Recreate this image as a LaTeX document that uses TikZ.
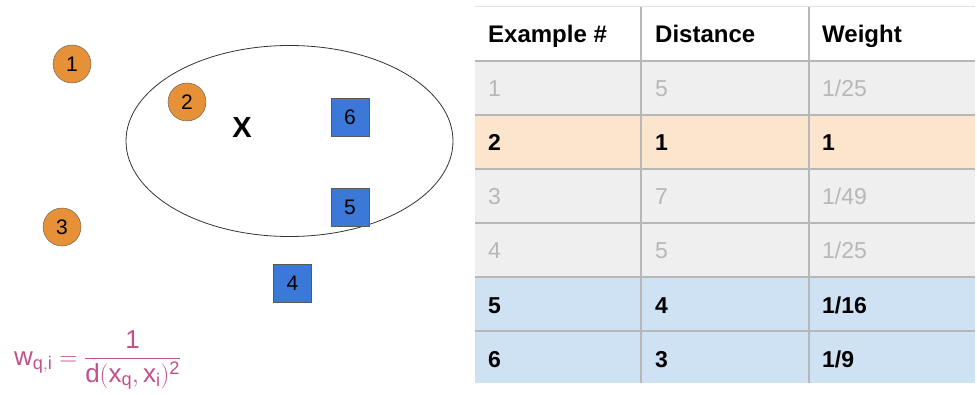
\documentclass[tikz,border=0pt]{standalone}
\usepackage{amsmath}
\usepackage{fontspec}
\setmainfont{Liberation Sans}
\setsansfont{Liberation Sans}
\usetikzlibrary{positioning}

\definecolor{dotorange}{HTML}{E69138}
\definecolor{boxblue}{HTML}{3C78D8}
\definecolor{shapeborder}{HTML}{595959}
\definecolor{rowgray}{HTML}{EFEFEF}
\definecolor{roworange}{HTML}{FCE5CD}
\definecolor{rowblue}{HTML}{CFE2F3}
\definecolor{gridgray}{HTML}{B7B7B7}
\definecolor{fadetext}{HTML}{B7B7B7}
\definecolor{formulapink}{HTML}{C2508A}

\begin{document}
\begin{tikzpicture}[
    x=1pt, y=-1pt,
    dot/.style={circle, draw=shapeborder, fill=dotorange,
                minimum size=38pt, inner sep=0pt,
                font=\fontsize{21}{24}\selectfont},
    sample/.style={rectangle, draw=shapeborder, fill=boxblue,
                   minimum size=38pt, inner sep=0pt,
                   font=\fontsize{21}{24}\selectfont},
    query/.style={font=\fontsize{29}{32}\selectfont\bfseries},
    cell/.style={anchor=base west, inner sep=0pt,
                 font=\fontsize{23}{26}\selectfont},
    headcell/.style={cell, font=\fontsize{24}{27}\selectfont\bfseries},
    faded/.style={cell, text=fadetext},
    picked/.style={cell, font=\fontsize{23}{26}\selectfont\bfseries},
    grid/.style={gridgray, line width=1.5pt},
]
\useasboundingbox (0,0) rectangle (977,395);

% === Neighbourhood of the query point ===
\draw[black!80, line width=0.8pt] (289.5,141) ellipse (163.5 and 95.5);

\node[query] (q) at (242,128) {X};

% --- Orange examples ---
\foreach \i/\xpos/\ypos in {1/72/64, 2/187/102, 3/62/227} {
    \node[dot] (c\i) at (\xpos,\ypos) {\i};
}

% --- Blue examples ---
\foreach \i/\xpos/\ypos in {4/292.5/283.5, 5/350/207, 6/350/117.5} {
    \node[sample] (s\i) at (\xpos,\ypos) {\i};
}

% --- Weight formula ---
\node[text=formulapink, anchor=west, inner sep=0pt,
      font=\fontsize{26}{30}\selectfont] (w) at (14,360)
    {$\mathsf{w}_{\mathsf{q},\mathsf{i}} =
      \dfrac{\mathsf{1}}{\mathsf{d}(\mathsf{x}_{\mathsf{q}},\mathsf{x}_{\mathsf{i}})^{\mathsf{2}}}$};

% === Weight table ===

% Column x-positions
\def\xa{475}
\def\xb{641}
\def\xc{809}
\def\xd{975}

% --- Row fills ---
\fill[rowgray]   (\xa,61)  rectangle (\xd,115);
\fill[roworange] (\xa,115) rectangle (\xd,169);
\fill[rowgray]   (\xa,169) rectangle (\xd,277);
\fill[rowblue]   (\xa,277) rectangle (\xd,383);

% --- Grid ---
\draw[gridgray!40, line width=1pt] (\xa,7) -- (\xd,7);
\foreach \ypos in {61,115,169,223,277,331} {
    \draw[grid] (\xa,\ypos) -- (\xd,\ypos);
}
\foreach \xpos in {\xb,\xc} {
    \draw[grid] (\xpos,7) -- (\xpos,383);
}

% --- Header ---
\node[headcell] (h1) at (488,43) {Example \#};
\node[headcell] (h2) at (655,43) {Distance};
\node[headcell] (h3) at (822,43) {Weight};

% --- Rows ---
\foreach \r/\d/\w/\st in {1/5/1\slash 25/faded, 2/1/1/picked,
                           3/7/1\slash 49/faded, 4/5/1\slash 25/faded,
                           5/4/1\slash 16/picked, 6/3/1\slash 9/picked} {
    \pgfmathsetmacro{\ybase}{43+54*\r}
    \node[\st] (e\r) at (488,\ybase) {\r};
    \node[\st] (d\r) at (655,\ybase) {\d};
    \node[\st] (w\r) at (822,\ybase) {\w};
}

\end{tikzpicture}
\end{document}
